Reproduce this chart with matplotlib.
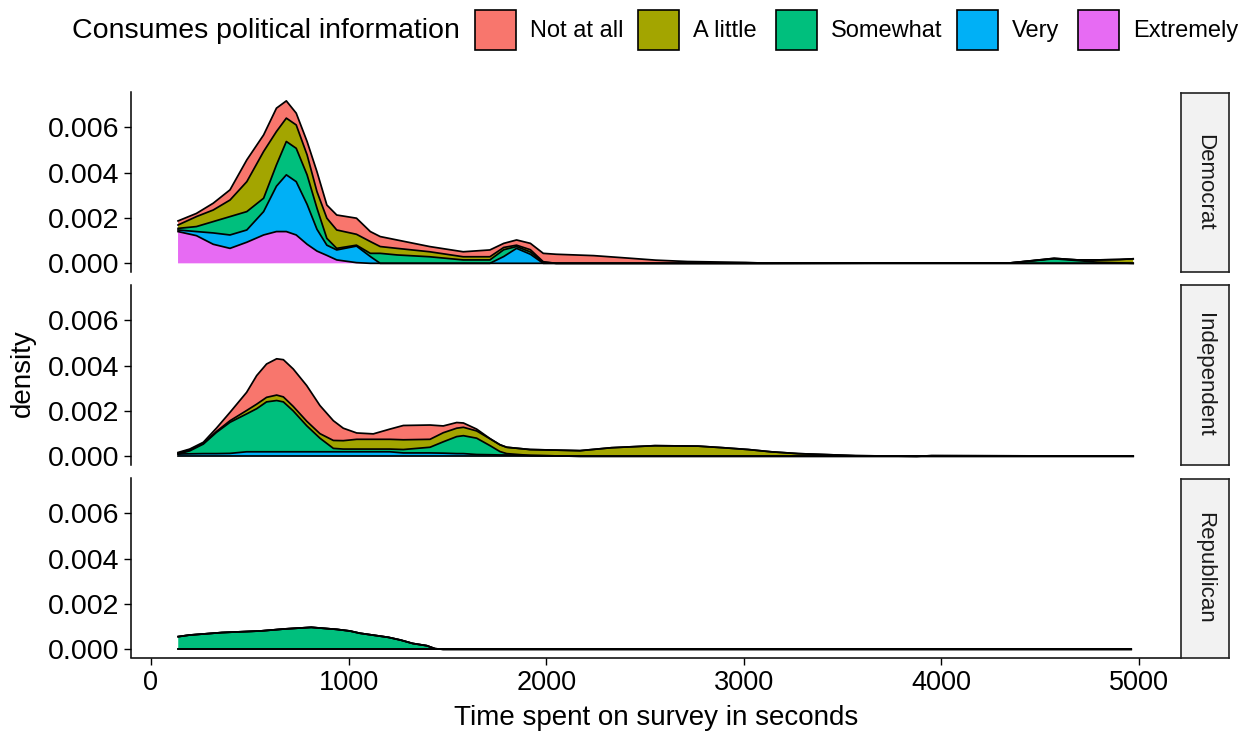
import matplotlib
matplotlib.use('Agg')
import matplotlib.pyplot as plt
from matplotlib.patches import Rectangle
from matplotlib.ticker import FormatStrFormatter
import numpy as np

plt.rcParams['font.family'] = ['Liberation Sans', 'DejaVu Sans']

# ---------------- data ----------------
categories = ["Not at all", "A little", "Somewhat", "Very", "Extremely"]
colors = ["#F8766D", "#A3A500", "#00BF7D", "#00B0F6", "#E76BF3"]
parties = ["Democrat", "Independent", "Republican"]

dem_x = [137, 230, 315, 400, 485, 570, 635, 685, 735, 790, 840, 890, 940, 1040, 1110,
         1160, 1245, 1410, 1580, 1715, 1785, 1850, 1920, 1985, 2050, 2240, 2415, 2555,
         2715, 3010, 3100, 4350, 4450, 4570, 4690, 4790, 4900, 4970]
dem_extremely = [0.0014, 0.00122, 0.00084, 0.00066, 0.00093, 0.00125, 0.0014, 0.0014, 0.00125,
                 0.00084, 0.00054, 0.00035, 0.00015, 0.00003, 0, 0, 0, 0, 0, 0, 0, 0, 0, 0,
                 0, 0, 0, 0, 0, 0, 0, 0, 0, 0, 0, 0, 0, 0]
dem_very = [0.00007, 0.00018, 0.0005, 0.00059, 0.00054, 0.00103, 0.002, 0.0025, 0.00235,
            0.00176, 0.00096, 0.00045, 0.00044, 0.00073, 0.0003, 0, 0, 0, 0, 0, 0.0003,
            0.00066, 0.0004, 0, 0, 0, 0, 0, 0, 0, 0, 0, 0, 0, 0, 0, 0, 0]
dem_somewhat = [0.00007, 0.00022, 0.0005, 0.00081, 0.00081, 0.00059, 0.00094, 0.00147, 0.00147,
                0.0013, 0.00093, 0.0003, 0.00007, 0.00004, 0.00014, 0.00044, 0.00037, 0.00029,
                0.00015, 0.00015, 0.0003, 0.00008, 0.0001, 0.00005, 0, 0, 0, 0, 0, 0, 0,
                0.00002, 0.0001, 0.0002, 0.00012, 0.00005, 0.00002, 0]
dem_alittle = [0.00015, 0.00044, 0.00051, 0.00073, 0.00132, 0.00206, 0.00147, 0.00103, 0.00103,
               0.00088, 0.00073, 0.00089, 0.00081, 0.00048, 0.00052, 0.0003, 0.00029, 0.00022,
               0.00014, 0.00014, 0.0001, 0.00006, 0.0001, 0.00002, 0, 0, 0, 0, 0, 0, 0,
               0, 0.00001, 0.00002, 0.00003, 0.0001, 0.00015, 0.0002]
dem_notatall = [0.00018, 0.00014, 0.0003, 0.00045, 0.00096, 0.00073, 0.00103, 0.00076, 0.00052,
                0.00059, 0.00088, 0.00058, 0.00066, 0.00071, 0.00044, 0.00044, 0.00037, 0.00023,
                0.00022, 0.0003, 0.00018, 0.00023, 0.00028, 0.00037, 0.0004, 0.00034, 0.00023,
                0.00014, 0.00008, 0.00004, 0.00001, 0, 0, 0, 0, 0, 0, 0]

ind_x = [137, 196, 265, 332, 400, 484, 535, 585, 636, 670, 720, 788, 855, 923, 973, 1041,
         1125, 1209, 1277, 1412, 1479, 1547, 1581, 1648, 1716, 1766, 1800, 1918, 2171, 2330,
         2550, 2769, 2895, 3022, 3138, 3275, 3566, 3875, 3950, 4970]
ind_extremely = [0] * 40
ind_very = [0.0001, 0.00011, 0.00012, 0.00012, 0.00013, 0.0002, 0.0002, 0.0002, 0.0002, 0.0002,
            0.0002, 0.0002, 0.0002, 0.0002, 0.0002, 0.0002, 0.0002, 0.0002, 0.00015, 0.00015,
            0.00014, 0.00012, 0.00012, 0.00008, 0.00007, 0.00006, 0.00006, 0.00004, 0, 0,
            0, 0, 0, 0, 0, 0, 0, 0, 0, 0]
ind_somewhat = [0, 0.00013, 0.00042, 0.00094, 0.00137, 0.00167, 0.0019, 0.0022, 0.00226, 0.0022,
                0.0018, 0.00115, 0.0006, 0.00015, 0.00012, 0.00012, 0.00012, 0.00012, 0.00015,
                0.00025, 0.0005, 0.00075, 0.00079, 0.00072, 0.0004, 0.00015, 0.00006, 0, 0, 0,
                0, 0, 0, 0, 0, 0, 0, 0, 0, 0]
ind_alittle = [0.00004, 0.00005, 0.00003, 0.00004, 0.00007, 0.00015, 0.0002, 0.0002, 0.00024,
               0.00022, 0.0002, 0.0002, 0.0002, 0.00035, 0.00037, 0.00043, 0.00043, 0.00043,
               0.00043, 0.00035, 0.0004, 0.00037, 0.00037, 0.00032, 0.0003, 0.0003, 0.00028,
               0.00026, 0.00025, 0.00038, 0.00047, 0.00045, 0.00038, 0.0003, 0.0002, 0.00012,
               0.00003, 0, 0.00003, 0.00001]
ind_notatall = [0.00003, 0.00003, 0.00005, 0.00015, 0.00037, 0.0008, 0.00126, 0.00147, 0.0016,
                0.00164, 0.00165, 0.00157, 0.00124, 0.00087, 0.00055, 0.00028, 0.00024, 0.00045,
                0.00063, 0.00063, 0.0003, 0.00025, 0.00019, 0.00008, 0.00001, 0, 0, 0, 0, 0,
                0, 0, 0, 0, 0, 0, 0, 0, 0, 0]

rep_x = [138, 195, 359, 554, 678, 811, 940, 1006, 1057, 1129, 1201, 1263, 1324, 1396, 1437,
         1478, 4960]
rep_extremely = [0] * 17
rep_very = [0] * 17
rep_somewhat = [0.00056, 0.00063, 0.00074, 0.00081, 0.0009, 0.00097, 0.00088, 0.00081, 0.00071,
                0.00062, 0.00053, 0.00041, 0.00026, 0.00016, 0.00003, 0, 0]
rep_alittle = [0] * 17
rep_notatall = [0] * 17

x_ticks = [0, 1000, 2000, 3000, 4000, 5000]
y_ticks = [0.000, 0.002, 0.004, 0.006]

# ---------------- layout ----------------
W, H = 1256, 736
fig = plt.figure(figsize=(W / 100, H / 100), dpi=100)


def fx(px):
    return px / W


def fy(py):
    return 1 - py / H


panel_left, panel_right = 131, 1181
panel_rows = [(92.5, 271.5), (285.5, 464.5), (478.5, 657.5)]
xlim = (-101, 5212)
ylim = (-0.00036, 0.00753)

panel_data = [
    (dem_x, [dem_notatall, dem_alittle, dem_somewhat, dem_very, dem_extremely]),
    (ind_x, [ind_notatall, ind_alittle, ind_somewhat, ind_very, ind_extremely]),
    (rep_x, [rep_notatall, rep_alittle, rep_somewhat, rep_very, rep_extremely]),
]

for i, (party, (xs, layers), (top, bot)) in enumerate(zip(parties, panel_data, panel_rows)):
    ax = fig.add_axes([fx(panel_left), fy(bot), fx(panel_right - panel_left), (bot - top) / H])
    x = np.array(xs, dtype=float)
    base = np.zeros_like(x)
    tops = []
    for vals, col in zip(layers[::-1], colors[::-1]):
        t = base + np.array(vals, dtype=float)
        ax.fill_between(x, base, t, facecolor=col, edgecolor='none', lw=0, zorder=2)
        tops.append(t)
        base = t
    for t in tops:
        ax.plot(x, t, color='black', lw=1.25, zorder=3, solid_joinstyle='round')
    ax.set_xlim(*xlim)
    ax.set_ylim(*ylim)
    ax.set_yticks(y_ticks)
    ax.yaxis.set_major_formatter(FormatStrFormatter('%.3f'))
    ax.tick_params(axis='y', labelsize=20.5, length=5, width=1.0, pad=3.5, colors='black',
                   labelcolor='black')
    for s in ['top', 'right']:
        ax.spines[s].set_visible(False)
    ax.spines['left'].set_linewidth(1.1)
    if i < 2:
        ax.spines['bottom'].set_visible(False)
        ax.set_xticks([])
    else:
        ax.spines['bottom'].set_linewidth(1.1)
        ax.set_xticks(x_ticks)
        ax.tick_params(axis='x', labelsize=19.5, length=5, width=1.0, pad=4)
    ax.patch.set_alpha(0)

    # strip
    sax = fig.add_axes([fx(1181), fy(bot), fx(48), (bot - top) / H])
    sax.set_facecolor('#F2F2F2')
    sax.set_xticks([])
    sax.set_yticks([])
    for s in sax.spines.values():
        s.set_linewidth(1.2)
        s.set_color('#222222')
    sax.text(0.5, 0.5, party, rotation=-90, ha='center', va='center', fontsize=16,
             color='#1A1A1A', transform=sax.transAxes)

# axis titles
fig.text(fx((panel_left + panel_right) / 2), fy(718), "Time spent on survey in seconds",
         ha='center', va='center', fontsize=20)
fig.text(fx(23), fy(373), "density", rotation=90, ha='center', va='center', fontsize=20)

# legend
fig.text(fx(72), fy(31), "Consumes political information", ha='left', va='center', fontsize=20.5)
key_lefts = [475, 638, 776, 957, 1078]
for cat, col, kl in zip(categories, colors, key_lefts):
    fig.patches.append(Rectangle((fx(kl), fy(50)), fx(41), 40 / H, facecolor=col,
                                 edgecolor='black', lw=1.2, transform=fig.transFigure,
                                 figure=fig))
    fig.text(fx(kl + 55), fy(31), cat, ha='left', va='center', fontsize=17)

fig.savefig('out.png', dpi=100)
